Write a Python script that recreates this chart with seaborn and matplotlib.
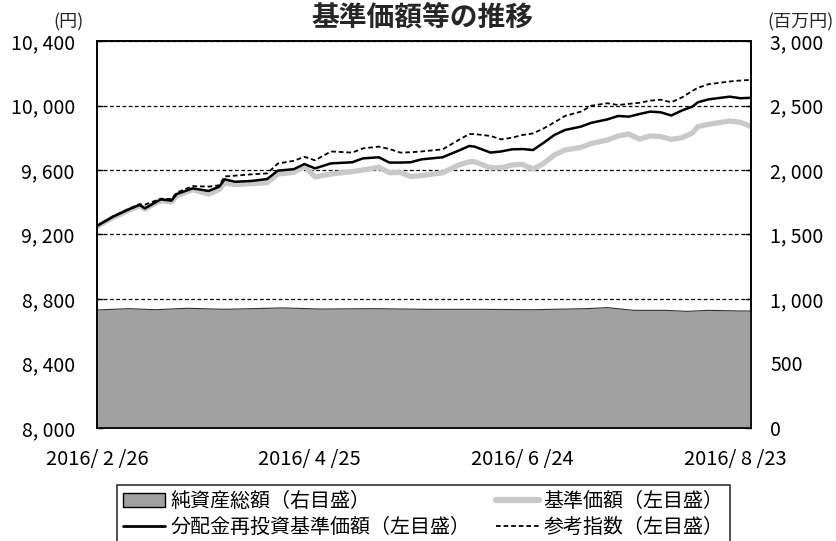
import pandas as pd
import matplotlib
matplotlib.use('Agg')
import matplotlib.pyplot as plt
import seaborn as sns
from matplotlib.lines import Line2D
from matplotlib.patches import Patch
from matplotlib.ticker import FixedLocator, FuncFormatter

# trading-day calendar, 2016/2/26 - 2016/8/26 (Japanese holidays removed)
jp_holidays = ['2016-03-21', '2016-04-29', '2016-05-03', '2016-05-04',
               '2016-05-05', '2016-07-18', '2016-08-11']
dates = pd.bdate_range('2016-02-26', '2016-08-26', freq='C', holidays=jp_holidays)

# sampled trading-day positions (index into dates)
days = [0, 3, 6, 8, 9, 12, 14, 15, 18, 21, 23, 24, 26, 29, 32, 34, 37, 39, 41, 44,
        48, 50, 53, 55, 57, 59, 61, 65, 68, 70, 71, 74, 76, 78, 80, 82, 84, 86, 88, 91,
        93, 96, 98, 100, 102, 104, 106, 108, 110, 112, 113, 115, 119, 121, 123]

# 分配金再投資基準価額 (yen)
reinvest = [9253, 9310, 9356, 9383, 9362, 9418, 9410, 9451, 9486, 9470,
            9497, 9542, 9527, 9532, 9544, 9596, 9605, 9637, 9610, 9641,
            9648, 9672, 9679, 9646, 9646, 9648, 9666, 9679, 9720, 9749,
            9745, 9708, 9715, 9728, 9730, 9724, 9769, 9817, 9848, 9869,
            9893, 9914, 9935, 9931, 9947, 9962, 9958, 9938, 9969, 9994,
            10020, 10038, 10055, 10045, 10048]

# 基準価額 (yen)
nav = [9250, 9305, 9350, 9378, 9358, 9410, 9402, 9440, 9478, 9450,
       9480, 9520, 9510, 9515, 9522, 9575, 9585, 9625, 9557, 9575,
       9590, 9600, 9617, 9583, 9585, 9560, 9565, 9583, 9631, 9651,
       9651, 9614, 9614, 9631, 9635, 9605, 9641, 9693, 9724, 9740,
       9765, 9786, 9811, 9823, 9792, 9811, 9807, 9790, 9800, 9830,
       9869, 9883, 9904, 9896, 9869]

# 参考指数 (yen)
bench = [9253, 9312, 9360, 9388, 9385, 9422, 9420, 9460, 9500, 9497,
         9505, 9560, 9565, 9573, 9579, 9640, 9657, 9682, 9660, 9715,
         9708, 9734, 9745, 9730, 9708, 9710, 9715, 9728, 9786, 9823,
         9823, 9811, 9790, 9800, 9817, 9827, 9858, 9895, 9935, 9962,
         9999, 10014, 10003, 10010, 10017, 10030, 10036, 10020, 10050, 10091,
         10110, 10132, 10149, 10155, 10159]

# 純資産総額 (million yen)
asset_days = [0, 6, 11, 17, 24, 35, 42, 52, 62, 72, 82, 92, 96, 101, 107, 111, 115, 121, 123]
assets = [915, 925, 917, 928, 920, 931, 922, 925, 920, 920, 917, 925, 933, 912, 912, 904, 912, 907, 907]

left_ticks = [8000, 8400, 8800, 9200, 9600, 10000, 10400]
right_ticks = [0, 500, 1000, 1500, 2000, 2500, 3000]
date_ticks = [0, 40, 80, 120]

legend_labels = ['純資産総額（右目盛）', '分配金再投資基準価額（左目盛）',
                 '基準価額（左目盛）', '参考指数（左目盛）']

sns.set_theme(style='white')
plt.rcParams['font.family'] = ['Noto Sans CJK JP', 'DejaVu Sans']

fig = plt.figure(figsize=(8.37, 5.41), dpi=100)
ax = fig.add_axes([0.1159, 0.2089, 0.7814, 0.7153])
ax2 = ax.twinx()

# net assets area on the right axis
ax2.fill_between(asset_days, assets, color='#a0a1a0', lw=0)
ax2.plot(asset_days, assets, color='#303030', lw=0.8)
ax2.set_ylim(0, 3000)

# price lines on the left axis
sns.lineplot(x=days, y=nav, ax=ax, color='#c9c9c9', linewidth=3.8)
sns.lineplot(x=days, y=reinvest, ax=ax, color='black', linewidth=1.8)
sns.lineplot(x=days, y=bench, ax=ax, color='black', linewidth=1.3, linestyle=(0, (2.6, 1.6)))

ax.set_xlim(0, 123)
ax.set_ylim(8000, 10400)
ax.yaxis.set_major_locator(FixedLocator(left_ticks))
ax.yaxis.set_major_formatter(FuncFormatter(lambda v, p: f'{int(v):,}'.replace(',', ', ')))
ax2.yaxis.set_major_locator(FixedLocator(right_ticks))
ax2.yaxis.set_major_formatter(FuncFormatter(lambda v, p: f'{int(v):,}'.replace(',', ', ')))
ax.set_xticks(date_ticks)
ax.set_xticklabels([f'{dates[i].year}/ {dates[i].month} /{dates[i].day}' for i in date_ticks])

ax.yaxis.grid(True, color='black', lw=0.9, ls=(0, (3, 2)))
ax.xaxis.grid(False)
ax2.grid(False)

for a in (ax, ax2):
    for s in a.spines.values():
        s.set_color('black')
        s.set_linewidth(1.2)
        s.set_visible(True)

ax.tick_params(axis='y', direction='in', length=4, width=1, color='black', pad=16,
               labelsize=14, labelcolor='black', left=True)
ax.tick_params(axis='x', direction='in', length=5, width=1, color='black', pad=15,
               labelsize=14.5, labelcolor='black', bottom=True)
ax2.tick_params(axis='y', direction='in', length=4, width=1, color='black', pad=14,
                labelsize=14, labelcolor='black', right=True)

fig.text(422 / 837, 1 - 17 / 541, '基準価額等の推移', ha='center', va='center',
         fontsize=20, fontweight='bold')
fig.text(69 / 837, 1 - 22 / 541, '(円)', ha='center', va='center', fontsize=13)
fig.text(834 / 837, 1 - 22 / 541, '(百万円)', ha='right', va='center', fontsize=13)

handles = [Patch(facecolor='#a0a1a0', edgecolor='black', linewidth=1),
           Line2D([], [], color='black', lw=2),
           Line2D([], [], color='#c9c9c9', lw=4.5),
           Line2D([], [], color='black', lw=1.3, ls=(0, (2.6, 1.6)))]
leg = fig.legend(handles, legend_labels, ncol=2, loc='upper center',
                 bbox_to_anchor=(423.5 / 837, 1 - 485 / 541), frameon=True, fancybox=False,
                 edgecolor='black', fontsize=14.4, handlelength=2.1, handletextpad=0.25,
                 columnspacing=1.3, labelspacing=0.25, borderpad=0.3, borderaxespad=0)
leg.get_frame().set_linewidth(1.2)
for t in leg.get_texts():
    t.set_color('black')

fig.savefig('out.png', dpi=100)
